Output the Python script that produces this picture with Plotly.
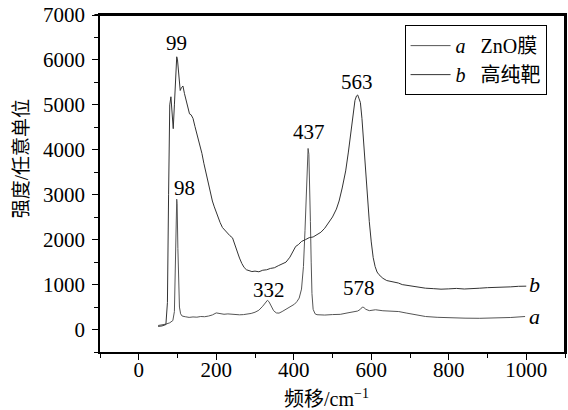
import plotly.graph_objects as go

# Curve a: ZnO film
xa = [50, 60, 70, 80, 88, 92, 95, 97, 98, 99, 101, 103, 105, 108, 112, 120, 130, 140, 150, 160,
      170, 180, 190, 200, 205, 210, 220, 230, 240, 250, 260, 270, 280, 290, 300, 310, 320, 326,
      332, 336, 342, 348, 355, 362, 370, 380, 388, 395, 402, 408, 414, 420, 425, 429, 432, 435,
      437, 439, 441, 443, 445, 447, 450, 455, 460, 480, 500, 520, 540, 555, 565, 572, 577, 581,
      586, 595, 611, 630, 650, 671, 690, 710, 740, 770, 800, 842, 880, 920, 960, 997]
ya = [90, 100, 120, 150, 200, 400, 1500, 2700, 2900, 2800, 1800, 900, 500, 350, 300, 285, 270,
      280, 275, 290, 285, 300, 325, 370, 360, 345, 340, 348, 338, 336, 328, 332, 342, 358, 385,
      430, 520, 600, 650, 620, 520, 420, 370, 365, 400, 455, 490, 520, 565, 620, 700, 900, 1400,
      2200, 3000, 3700, 4030, 3900, 3300, 2400, 1500, 800, 450, 350, 330, 322, 333, 338, 372, 388,
      412, 450, 500, 490, 450, 420, 440, 418, 412, 400, 368, 332, 290, 272, 258, 253, 250, 256,
      268, 290]

# Curve b: high-purity target
xb = [50, 60, 70, 74, 77, 80, 83, 86, 89, 92, 95, 98, 100, 103, 107, 110, 114, 118, 122, 126,
      131, 135, 140, 145, 150, 157, 163, 168, 174, 180, 185, 190, 195, 200, 205, 210, 216, 222,
      228, 235, 242, 248, 254, 260, 266, 272, 278, 285, 292, 300, 310, 320, 330, 340, 350, 360,
      370, 380, 390, 397, 405, 412, 420, 430, 440, 450, 460, 470, 480, 490, 500, 510, 517, 525,
      534, 541, 547, 553, 558, 562, 565, 568, 572, 576, 580, 585, 590, 595, 600, 605, 610, 615,
      620, 630, 640, 650, 660, 670, 680, 690, 700, 720, 740, 760, 780, 800, 820, 840, 860, 880,
      900, 920, 940, 960, 980, 1000]
yb = [70, 80, 110, 600, 3000, 5000, 5180, 4700, 4470, 5000, 5700, 6070, 6000, 5600, 5320, 5380,
      5420, 5250, 5120, 4950, 4800, 4780, 4700, 4520, 4360, 4140, 3920, 3700, 3460, 3260, 3040,
      2860, 2730, 2600, 2490, 2380, 2270, 2210, 2160, 2090, 2040, 1880, 1720, 1590, 1470, 1380,
      1330, 1310, 1290, 1300, 1285, 1320, 1330, 1360, 1375, 1420, 1455, 1500, 1610, 1740, 1850,
      1890, 1960, 2000, 2045, 2060, 2115, 2165, 2255, 2375, 2505, 2680, 2860, 3150, 3530, 3950,
      4350, 4800, 5100, 5200, 5220, 5150, 5050, 4700, 4200, 3600, 3000, 2400, 1950, 1600, 1400,
      1280, 1220, 1140, 1090, 1075, 1045, 1035, 1000, 985, 970, 955, 920, 910, 898, 905, 915,
      902, 918, 920, 932, 935, 948, 950, 962, 965]

peak_x = [98, 118, 337, 440, 564, 568]
peak_y = [6375, 3154, 888, 4390, 5510, 924]
peak_t = ["99", "98", "332", "437", "563", "578"]

x_range = [-100, 1100]
y_range = [-500, 7000]

x_title = "频移/cm<sup>−1</sup>"
y_title = "强度/任意单位"

FONT = "'Liberation Serif', 'Times New Roman', 'Noto Sans CJK SC', serif"

fig = go.Figure()
fig.add_trace(go.Scatter(x=xa, y=ya, mode="lines", name="<i>a</i>   ZnO膜",
                         line=dict(color="#555555", width=1)))
fig.add_trace(go.Scatter(x=xb, y=yb, mode="lines", name="<i>b</i>   高纯靶",
                         line=dict(color="#333333", width=1)))
# top and right frame edges, drawn along the axis ranges
fig.add_trace(go.Scatter(x=[x_range[0], x_range[1], x_range[1]], y=[y_range[1], y_range[1], y_range[0]],
                         mode="lines", line=dict(color="black", width=2), showlegend=False,
                         hoverinfo="skip", cliponaxis=False))

for x, y, t in zip(peak_x, peak_y, peak_t):
    fig.add_annotation(x=x, y=y, text=t, showarrow=False, font=dict(size=21, color="black", family=FONT))

fig.add_annotation(x=1020, y=1000, text="<i>b</i>", showarrow=False, font=dict(size=22, color="black", family=FONT))
fig.add_annotation(x=1020, y=290, text="<i>a</i>", showarrow=False, font=dict(size=22, color="black", family=FONT))

# axis titles as paper-positioned text
fig.add_annotation(xref="paper", yref="paper", x=0.488, y=-0.1365, xanchor="center", yanchor="middle",
                   text=x_title, showarrow=False, font=dict(size=20, color="black", family=FONT))
fig.add_annotation(xref="paper", yref="paper", x=-0.167, y=0.573, xanchor="center", yanchor="middle",
                   text=y_title, showarrow=False, textangle=-90,
                   font=dict(size=19, color="black", family=FONT))

# plot frame: top and right edges drawn explicitly as well
fig.add_shape(type="line", xref="paper", yref="paper", x0=-0.012, x1=1, y0=1, y1=1,
              line=dict(color="black", width=2), layer="above")
fig.add_shape(type="line", xref="paper", yref="paper", x0=1, x1=1, y0=0, y1=1,
              line=dict(color="black", width=2), layer="above")

axis_common = dict(showline=True, linecolor="black", linewidth=1.5, mirror=True,
                   ticks="outside", ticklen=6, tickwidth=1.2, tickcolor="black",
                   showgrid=False, zeroline=False, automargin=False, ticklabeloverflow="allow",
                   tickfont=dict(size=21, family=FONT, color="black"))

fig.update_xaxes(range=x_range, tickvals=[0, 200, 400, 600, 800, 1000], ticklabelstandoff=-8,
                 minor=dict(tickvals=[-100, 100, 300, 500, 700, 900, 1100], ticks="outside", ticklen=4, tickcolor="black"),
                 **axis_common)
fig.update_yaxes(range=y_range, tickvals=[0, 1000, 2000, 3000, 4000, 5000, 6000, 7000], ticklabelstandoff=3,
                 minor=dict(tickvals=[-500, 500, 1500, 2500, 3500, 4500, 5500, 6500], ticks="outside", ticklen=4, tickcolor="black"),
                 **axis_common)

fig.update_layout(
    width=568, height=410,
    margin=dict(l=100, r=3, t=15, b=58),
    paper_bgcolor="white", plot_bgcolor="white",
    font=dict(family=FONT, color="black"),
    legend=dict(x=0.655, y=0.97, xanchor="left", yanchor="top",
                bordercolor="black", borderwidth=1, bgcolor="white",
                itemwidth=40,
                font=dict(size=20, family=FONT, color="black"),
                tracegroupgap=0),
)

# remove the page's default body margin so the figure fills the window exactly
fig.write_html("out.html", config={"displayModeBar": False},
               post_script="document.body.style.margin='0';document.documentElement.style.overflow='hidden';")
